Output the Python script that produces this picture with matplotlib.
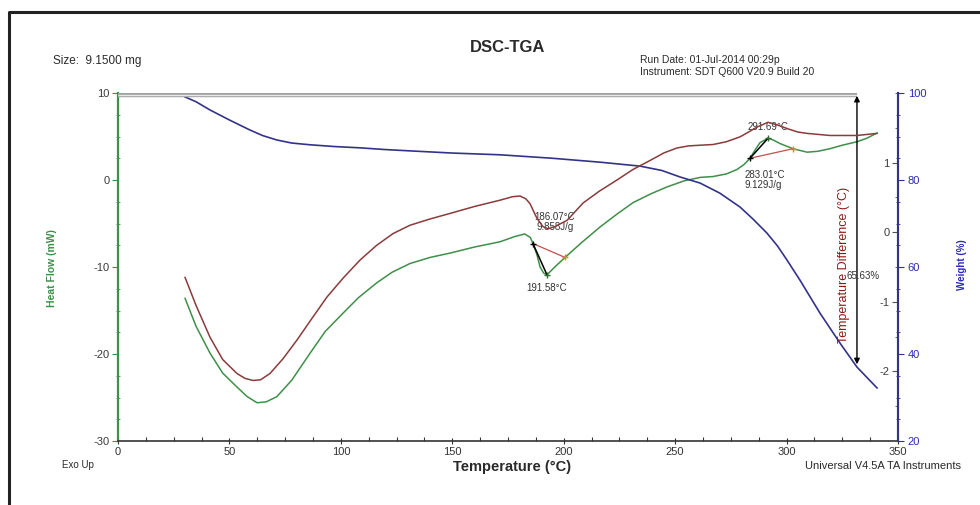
import matplotlib
matplotlib.use('Agg')
from matplotlib import pyplot as plt
from matplotlib.lines import Line2D
from matplotlib.ticker import MultipleLocator

plt.rcParams['font.family'] = ['Liberation Sans', 'DejaVu Sans']
plt.rcParams['axes.unicode_minus'] = False

# heat flow (green), mW
hf_temp = [30.1, 35, 41.3, 47, 53.4, 58, 62.4, 66.5, 71.3, 78, 86.2, 93, 101, 108,
           116.2, 123, 131, 140, 149, 160, 171.4, 178, 182.5, 185, 186.2, 188, 189.4,
           191, 192.5, 196, 200.6, 208, 216.3, 224, 231.1, 239, 246.3, 254, 261.2,
           267, 273, 277.7, 281, 283.6, 286, 288.1, 291.7, 294, 297, 302.9, 309.2,
           314, 319.5, 325, 331.6, 336, 340.6]
hf_val = [-13.6, -16.8, -19.9, -22.2, -23.8, -24.9, -25.6, -25.5, -24.9, -23.0, -19.9,
          -17.4, -15.3, -13.5, -11.8, -10.6, -9.6, -8.9, -8.4, -7.7, -7.1, -6.5, -6.2,
          -6.6, -7.3, -8.6, -10.0, -10.7, -10.9, -10.0, -8.9, -7.2, -5.4, -3.9, -2.6,
          -1.6, -0.8, -0.1, 0.3, 0.4, 0.7, 1.2, 1.8, 2.5, 3.5, 4.3, 4.8, 4.6, 4.2, 3.6,
          3.2, 3.3, 3.6, 4.0, 4.4, 4.8, 5.4]

# temperature difference (brown), °C
dt_temp = [30.1, 35, 41.3, 47, 53.4, 57, 60.6, 64, 68.2, 74, 80.3, 87, 93.8, 101,
           108.6, 116, 123.4, 131, 140, 149, 160, 171.4, 177, 180.4, 183, 184.9, 186.5,
           188, 190.7, 193, 196, 201.5, 208.7, 216, 223.9, 231, 238.7, 245, 250.8, 256,
           261.2, 267, 273, 279.1, 283, 286.7, 291.7, 296, 300.2, 305, 309.2, 319.5,
           331.6, 340.6]
dt_val = [-0.65, -1.05, -1.51, -1.83, -2.03, -2.10, -2.13, -2.12, -2.03, -1.82, -1.55,
          -1.24, -0.93, -0.66, -0.40, -0.19, -0.02, 0.10, 0.19, 0.27, 0.37, 0.46, 0.51,
          0.52, 0.48, 0.41, 0.30, 0.20, 0.08, 0.05, 0.08, 0.17, 0.42, 0.59, 0.75, 0.90,
          1.03, 1.14, 1.21, 1.24, 1.25, 1.26, 1.30, 1.37, 1.44, 1.51, 1.58, 1.54, 1.49,
          1.44, 1.42, 1.39, 1.39, 1.42]

# weight (blue), %
w_temp = [30.1, 35, 41.3, 50, 59.2, 65, 71.3, 78, 86.2, 97, 108.6, 120, 131, 150,
          171.4, 195, 216.3, 234.2, 244, 252.2, 261.2, 270, 279.1, 285, 291.2, 296,
          300.2, 306, 315, 324, 331.6, 340.6]
w_val = [99.1, 98.0, 96.1, 93.8, 91.5, 90.2, 89.2, 88.5, 88.1, 87.7, 87.4, 87.0, 86.7,
         86.2, 85.8, 85.0, 84.1, 83.2, 82.2, 80.7, 79.3, 77.0, 73.8, 71.0, 67.8, 64.8,
         61.6, 57.0, 49.4, 42.5, 37.0, 32.2]

# peak analysis points on heat flow
peak1 = {'onset': (186.2, -7.3), 'peak': (192.5, -10.9), 'end': (200.6, -8.9)}
peak2 = {'onset': (283.6, 2.5), 'peak': (291.7, 4.8), 'end': (302.9, 3.6)}

green = '#3f8f4a'
brown = '#8a3b3b'
navy = '#33338a'
txt = '#2a2a2a'

fig = plt.figure(figsize=(9.8, 5.05), dpi=100)
ax = fig.add_axes([0.1204, 0.1267, 0.7959, 0.6891])

ax.plot(hf_temp, hf_val, color=green, lw=1.1)
ax.set_xlim(0, 350)
ax.set_ylim(-30, 10)

# tangents and baselines
for pk in (peak1, peak2):
    ax.plot([pk['onset'][0], pk['end'][0]], [pk['onset'][1], pk['end'][1]], color='#c0504d', lw=0.9)
    ax.plot([pk['onset'][0], pk['peak'][0]], [pk['onset'][1], pk['peak'][1]], color='black', lw=1.1)
    ax.plot(*pk['onset'], marker='+', color='black', ms=5)
    ax.plot(*pk['peak'], marker='+', color='#2f6b2f', ms=5)
    ax.plot(*pk['end'], marker='+', color='#d08a20', ms=5)

ax_w = ax.twinx()
ax_w.plot(w_temp, w_val, color=navy, lw=1.2)
ax_w.set_ylim(20, 100)

ax_dt = ax.twinx()
ax_dt.plot(dt_temp, dt_val, color=brown, lw=1.1)
ax_dt.set_ylim(-3, 2)

# top reference line and weight loss arrow
ax_w.plot([0, 331.6], [99.6, 99.6], color='#a0a0a0', lw=3.2, solid_capstyle='butt')
ax_w.plot([0, 331.6], [99.6, 99.6], color='#e6e6e6', lw=1.0, solid_capstyle='butt')
ax_w.annotate('', xy=(331.6, 37.0), xytext=(331.6, 100),
              arrowprops=dict(arrowstyle='<|-|>', color='black', lw=1.0, mutation_scale=8))
ax_w.text(327, 58.0, '65.63%', fontsize=7, color='#333333', ha='left', va='center')

# spines / ticks
for a in (ax, ax_w, ax_dt):
    a.spines['top'].set_visible(False)
ax.spines['right'].set_visible(False)
ax.spines['left'].set_color(green)
ax.spines['left'].set_linewidth(1.6)
ax.spines['bottom'].set_linewidth(1.2)
ax.spines['bottom'].set_color('#333333')
ax.set_xticks(range(0, 351, 50))
ax.xaxis.set_minor_locator(MultipleLocator(12.5))
ax.set_yticks([10, 0, -10, -20, -30])
ax.yaxis.set_minor_locator(MultipleLocator(2.5))
ax.tick_params(axis='x', direction='inout', length=5, width=0.8, labelsize=8, pad=2, colors='#333333')
ax.tick_params(axis='x', which='minor', direction='in', length=3, width=0.8, colors='#333333')
ax.tick_params(axis='y', direction='out', length=4, width=0.8, labelsize=8, pad=2,
               color=green, labelcolor='#3a3a3a')
ax.tick_params(axis='y', which='minor', direction='inout', length=3, width=0.6, color=green)

ax_w.spines['left'].set_visible(False)
ax_w.spines['bottom'].set_visible(False)
ax_w.spines['right'].set_color(navy)
ax_w.spines['right'].set_linewidth(1.5)
ax_w.set_yticks([100, 80, 60, 40, 20])
ax_w.yaxis.set_minor_locator(MultipleLocator(5))
ax_w.tick_params(axis='y', direction='out', length=4, width=0.8, labelsize=8, pad=3,
                 color=navy, labelcolor='#2b2bb0')
ax_w.tick_params(axis='y', which='minor', direction='inout', length=3, width=0.6, color=navy)

ax_dt.spines['right'].set_visible(False)
ax_dt.spines['bottom'].set_visible(False)
ax_dt.spines['left'].set_position(('axes', 1.0))
ax_dt.yaxis.tick_left()
ax_dt.set_yticks([1, 0, -1, -2])
ax_dt.yaxis.set_minor_locator(MultipleLocator(0.5))
ax_dt.tick_params(axis='y', which='both', right=False, labelright=False)
ax_dt.tick_params(axis='y', which='major', left=True, labelleft=True, direction='out', length=4,
                  width=0.8, labelsize=8, pad=2, color='#555555', labelcolor='#3a3a3a')
ax_dt.tick_params(axis='y', which='minor', left=True, direction='out', length=2, width=0.6, color='#555555')
ax_dt.spines['left'].set_color(navy)
ax_dt.spines['left'].set_linewidth(1.5)

# peak labels
ax.text(196, -4.3, '186.07°C', fontsize=7, ha='center', va='center', color='#333333')
ax.text(196, -5.4, '9.858J/g', fontsize=7, ha='center', va='center', color='#333333')
ax.text(192.5, -12.4, '191.58°C', fontsize=7, ha='center', va='center', color='#333333')
ax.text(291.7, 6.1, '291.69°C', fontsize=7, ha='center', va='center', color='#333333')
ax.text(281.3, 0.6, '283.01°C', fontsize=7, ha='left', va='center', color='#333333')
ax.text(281.3, -0.6, '9.129J/g', fontsize=7, ha='left', va='center', color='#333333')

# axis labels and header texts
fig.text(52 / 980, 1 - 268 / 505, 'Heat Flow (mW)', rotation=90, fontsize=7.5, color=green,
         ha='center', va='center', weight='bold')
fig.text(962 / 980, 1 - 265 / 505, 'Weight (%)', rotation=90, fontsize=7, color='#2b2bb0',
         ha='center', va='center', weight='bold')
fig.text(844 / 980, 1 - 265 / 505, 'Temperature Difference (°C)', rotation=90, fontsize=9,
         color='#8b1a1a', ha='center', va='center')
fig.text(508 / 980, 1 - 47 / 505, 'DSC-TGA', fontsize=12, weight='bold', ha='center', va='center',
         color=txt)
fig.text(53 / 980, 1 - 61 / 505, 'Size:  9.1500 mg', fontsize=8.5, ha='left', va='center', color=txt)
fig.text(640 / 980, 1 - 60 / 505, 'Run Date: 01-Jul-2014 00:29p', fontsize=7.5, ha='left', va='center',
         color=txt)
fig.text(640 / 980, 1 - 72 / 505, 'Instrument: SDT Q600 V20.9 Build 20', fontsize=7.5, ha='left',
         va='center', color=txt)
fig.text(62 / 980, 1 - 465 / 505, 'Exo Up', fontsize=7, ha='left', va='center', color=txt)
fig.text(512 / 980, 1 - 467 / 505, 'Temperature (°C)', fontsize=10.5, weight='bold', ha='center',
         va='center', color=txt)
fig.text(805 / 980, 1 - 466 / 505, 'Universal V4.5A TA Instruments', fontsize=8, ha='left',
         va='center', color=txt)

# page frame
fig.add_artist(Line2D([9 / 980, 9 / 980, 1.0], [0.0, 1 - 12 / 505, 1 - 12 / 505],
                      transform=fig.transFigure, color='#222222', lw=2.2))

fig.savefig('out.png', dpi=100)
